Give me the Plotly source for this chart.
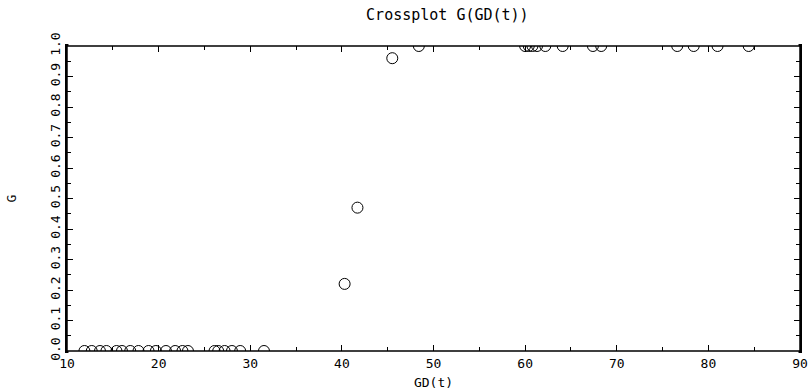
import plotly.graph_objects as go

gd_low = [11.9, 12.7, 13.6, 14.3, 15.4, 16.0, 16.9, 17.8, 18.9, 19.7, 20.8, 21.8, 22.6, 23.2,
          26.1, 26.5, 27.2, 28.0, 28.9, 31.5]
g_low = [0.0] * len(gd_low)
gd_mid = [40.3, 41.7, 45.5]
g_mid = [0.22, 0.47, 0.96]
gd_high = [48.4, 60.0, 60.4, 60.8, 61.3, 62.2, 64.1, 67.4, 68.3, 76.6, 78.4, 81.0, 84.4]
g_high = [1.0] * len(gd_high)

x_vals = gd_low + gd_mid + gd_high
y_vals = g_low + g_mid + g_high

x_ticks = [10, 20, 30, 40, 50, 60, 70, 80, 90]
y_ticks = [0.0, 0.1, 0.2, 0.3, 0.4, 0.5, 0.6, 0.7, 0.8, 0.9, 1.0]
y_labels = [f"{v:.1f}" for v in y_ticks]

FONT = "DejaVu Sans Mono"
W, H = 809, 391
ML, MR, MT, MB = 67, 9, 46, 40
plot_h = H - MT - MB

fig = go.Figure()
fig.add_trace(go.Scatter(
    x=x_vals, y=y_vals, mode="markers",
    marker=dict(symbol="circle-open", size=11, color="black", line=dict(width=1)),
    cliponaxis=True, showlegend=False,
))

axis_common = dict(
    showgrid=False, zeroline=False, showline=True, linecolor="black", linewidth=1.5,
    mirror="ticks", ticks="inside", ticklen=6, tickcolor="black", tickwidth=1,
    tickfont=dict(family=FONT, size=13, color="black"), automargin=False,
)

fig.update_xaxes(
    range=[10, 90], tickvals=x_ticks, ticktext=[str(v) for v in x_ticks],
    minor=dict(dtick=5, ticks="inside", ticklen=4, tickcolor="black"),
    title=dict(text="GD(t)", font=dict(family=FONT, size=13, color="black"), standoff=8),
    **axis_common,
)
fig.update_yaxes(
    range=[0, 1], tickvals=y_ticks, ticktext=y_labels, tickangle=-90,
    minor=dict(dtick=0.05, ticks="inside", ticklen=4, tickcolor="black"),
    title=dict(text="G", font=dict(family=FONT, size=13, color="black"), standoff=28),
    **axis_common,
)

# hide the halves of edge markers that fall outside the frame, then redraw the frame
d = 8 / plot_h
for y0, y1 in [(1.0, 1.0 + d), (-d, 0.0)]:
    fig.add_shape(type="rect", xref="paper", yref="paper", x0=0.002, x1=0.998, y0=y0, y1=y1,
                  fillcolor="white", line=dict(width=0), layer="above")
fig.add_shape(type="rect", xref="paper", yref="paper", x0=0, x1=1, y0=0, y1=1,
              fillcolor="rgba(0,0,0,0)", line=dict(color="black", width=1.5), layer="above")

fig.update_layout(
    width=W, height=H,
    margin=dict(l=ML, r=MR, t=MT, b=MB),
    paper_bgcolor="white", plot_bgcolor="white",
    title=dict(text="Crossplot G(GD(t))", x=0.553, xanchor="center", y=0.975, yanchor="top",
               font=dict(family=FONT, size=15, color="black")),
)

fig.write_html("out.html", config={"displayModeBar": False},
               post_script="document.body.style.margin='0px';document.body.style.overflow='hidden';")
